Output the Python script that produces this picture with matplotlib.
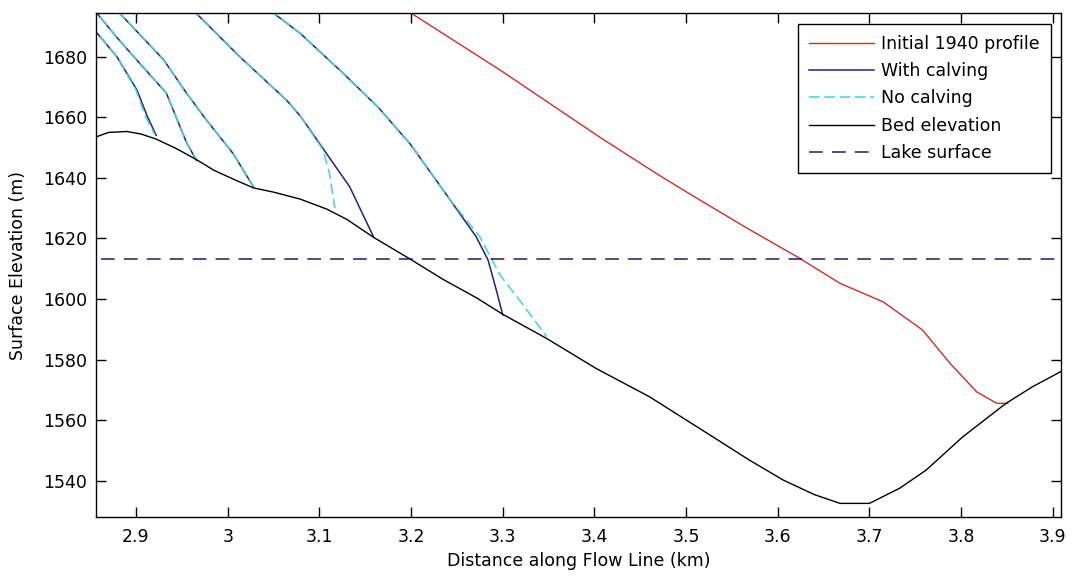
import numpy as np
import matplotlib
matplotlib.use("Agg")
import matplotlib.pyplot as plt

plt.rcParams['font.family'] = ['DejaVu Sans']
plt.rcParams['font.size'] = 12.5

# bed elevation along the flow line (km, m)
bed_x = [2.850, 2.870, 2.890, 2.905, 2.922, 2.945, 2.966, 2.985, 3.006, 3.028,
         3.050, 3.079, 3.108, 3.130, 3.159, 3.199, 3.235, 3.271, 3.300, 3.348,
         3.402, 3.460, 3.529, 3.569, 3.606, 3.640, 3.668, 3.700, 3.733, 3.762,
         3.802, 3.849, 3.878, 3.912]
bed_y = [1652.8, 1655.0, 1655.3, 1654.5, 1652.8, 1649.5, 1646.0, 1642.5, 1639.6, 1636.7,
         1635.3, 1633.0, 1629.7, 1626.3, 1620.4, 1613.2, 1606.5, 1600.5, 1595.0, 1587.0,
         1577.1, 1567.8, 1554.6, 1546.9, 1540.3, 1535.5, 1532.6, 1532.6, 1537.6, 1543.6,
         1554.6, 1565.6, 1571.1, 1576.6]

# initial 1940 surface
init_x = [3.190, 3.297, 3.381, 3.406, 3.471, 3.515, 3.570, 3.621, 3.668, 3.715,
          3.758, 3.788, 3.817, 3.839, 3.851]
init_y = [1696.3, 1675.6, 1658.5, 1653.4, 1640.8, 1632.7, 1622.8, 1614.0, 1605.2, 1599.1,
          1589.8, 1578.8, 1569.4, 1565.6, 1565.6]

# modelled surfaces, with calving
calv_x = [
    [2.850, 2.856, 2.879, 2.901, 2.912, 2.922],
    [2.850, 2.880, 2.904, 2.933, 2.955, 2.966],
    [2.880, 2.930, 2.955, 2.977, 3.006, 3.028],
    [2.960, 3.013, 3.064, 3.079, 3.100, 3.133, 3.159],
    [3.045, 3.079, 3.126, 3.165, 3.199, 3.235, 3.271, 3.284, 3.293, 3.300],
]
calv_y = [
    [1690.5, 1688.3, 1680.0, 1669.0, 1660.5, 1654.0],
    [1697.0, 1686.0, 1677.8, 1668.0, 1651.7, 1645.7],
    [1695.0, 1679.0, 1668.0, 1659.0, 1648.0, 1637.1],
    [1696.0, 1680.0, 1665.7, 1660.5, 1651.4, 1637.1, 1620.6],
    [1695.5, 1687.7, 1674.5, 1663.0, 1651.2, 1636.0, 1620.6, 1612.9, 1603.0, 1594.8],
]

# modelled surfaces, no calving
nocalv_x = [
    [2.850, 2.856, 2.879, 2.900, 2.910, 2.920],
    [2.850, 2.880, 2.904, 2.933, 2.955, 2.966],
    [2.880, 2.930, 2.955, 2.977, 3.006, 3.028],
    [2.960, 3.013, 3.064, 3.079, 3.104, 3.111, 3.117],
    [3.045, 3.079, 3.126, 3.165, 3.199, 3.242, 3.275, 3.297, 3.320, 3.348],
]
nocalv_y = [
    [1690.5, 1688.3, 1680.0, 1669.0, 1660.5, 1654.5],
    [1697.0, 1686.0, 1677.8, 1668.0, 1651.7, 1645.7],
    [1695.0, 1679.0, 1668.0, 1659.0, 1648.0, 1637.1],
    [1696.0, 1680.0, 1665.7, 1660.5, 1649.2, 1641.5, 1630.0],
    [1695.5, 1687.7, 1674.5, 1663.0, 1651.2, 1633.0, 1620.6, 1608.0, 1599.0, 1587.6],
]

lake_x = [2.862, 3.912]
lake_level = 1613.2

RED = '#d42a2a'
NAVY = '#22227a'
CYAN = '#3fd4de'
LAKE = '#1c1c66'

fig = plt.figure(figsize=(10.73, 5.78), dpi=100)
ax = fig.add_axes([0.0892, 0.106, 0.8996, 0.871])

ax.plot(init_x, init_y, color=RED, lw=1.0, label='Initial 1940 profile')
for i in range(len(calv_x)):
    ax.plot(calv_x[i], calv_y[i], color=NAVY, lw=1.1,
            label='With calving' if i == 0 else None)
for i in range(len(nocalv_x)):
    ax.plot(nocalv_x[i], nocalv_y[i], color=CYAN, lw=1.1, dashes=(7, 3),
            label='No calving' if i == 0 else None)
ax.plot(bed_x, bed_y, color='black', lw=1.0, label='Bed elevation')
ax.plot(lake_x, [lake_level] * 2, color=LAKE, lw=1.1, dashes=(9, 6),
        label='Lake surface')

ax.set_xlim(2.856, 3.909)
ax.set_ylim(1528.2, 1694.3)
ax.set_xticks(np.arange(2.9, 3.95, 0.1))
ax.set_xticklabels(['2.9', '3', '3.1', '3.2', '3.3', '3.4', '3.5', '3.6',
                    '3.7', '3.8', '3.9'])
ax.set_yticks(np.arange(1540, 1681, 20))

ax.tick_params(direction='in', top=True, right=True, length=7, width=1.0)
ax.tick_params(axis='x', pad=8)
ax.tick_params(axis='y', pad=6)
for s in ax.spines.values():
    s.set_linewidth(1.0)

ax.set_xlabel('Distance along Flow Line (km)')
ax.set_ylabel('Surface Elevation (m)')
ax.xaxis.set_label_coords(0.5, -0.071)
ax.yaxis.set_label_coords(-0.0713, 0.5)

leg = ax.legend(loc='upper right', fancybox=False, framealpha=1,
                edgecolor='black', handlelength=3.7, handletextpad=0.4,
                borderpad=0.65, labelspacing=0.53, borderaxespad=0.6)
leg.get_frame().set_linewidth(1.0)

fig.savefig('out.png', dpi=100)
